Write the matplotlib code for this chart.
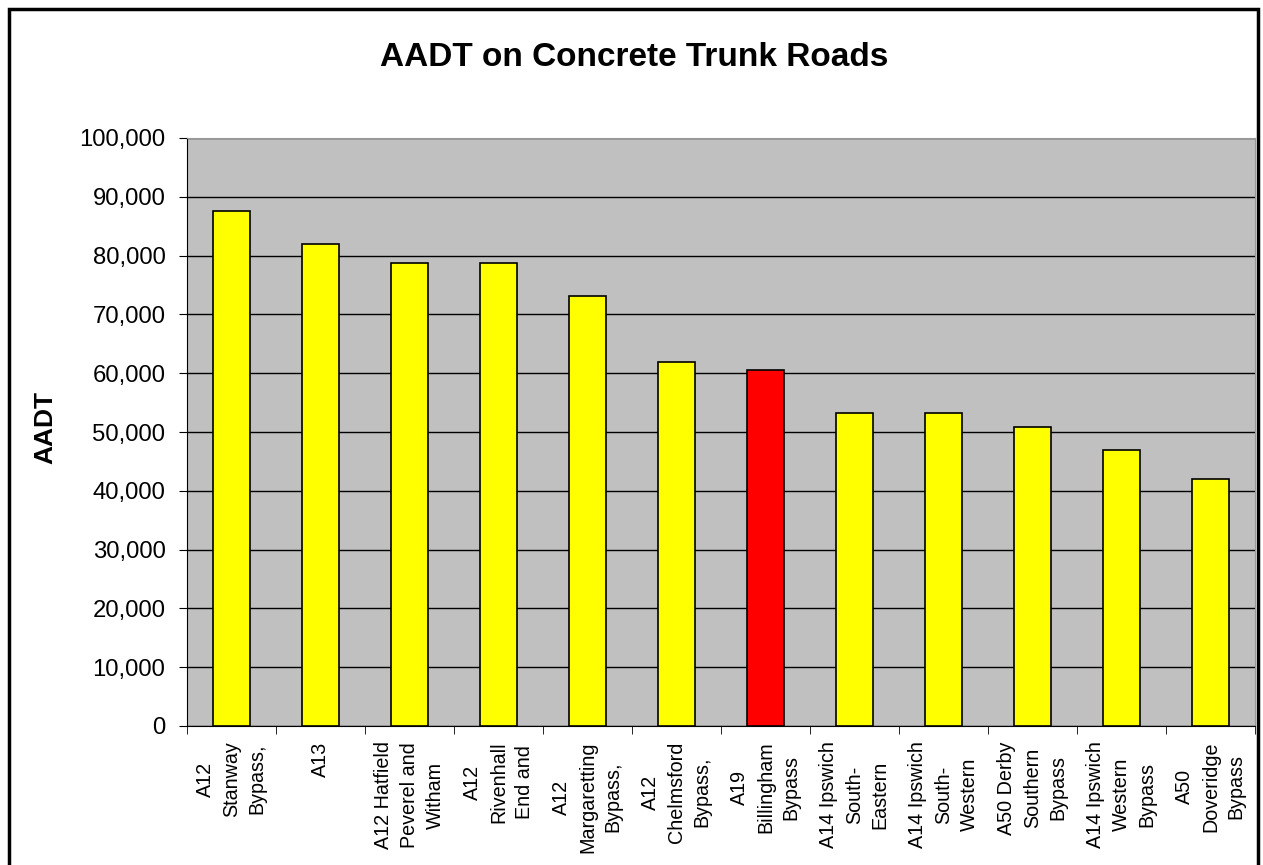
import matplotlib
matplotlib.use("Agg")
import matplotlib.pyplot as plt
from matplotlib.patches import Rectangle
from matplotlib.ticker import FuncFormatter, FixedLocator
import numpy as np

plt.rcParams['font.family'] = ['Liberation Sans', 'DejaVu Sans']

# data
roads = [
    "A12\nStanway\nBypass,",
    "A13",
    "A12 Hatfield\nPeverel and\nWitham",
    "A12\nRivenhall\nEnd and",
    "A12\nMargaretting\nBypass,",
    "A12\nChelmsford\nBypass,",
    "A19\nBillingham\nBypass",
    "A14 Ipswich\nSouth-\nEastern",
    "A14 Ipswich\nSouth-\nWestern",
    "A50 Derby\nSouthern\nBypass",
    "A14 Ipswich\nWestern\nBypass",
    "A50\nDoveridge\nBypass",
]
aadt = [87600, 82000, 78800, 78800, 73200, 61900, 60500, 53300, 53300, 50900, 46900, 42000]
highlight = "A19\nBillingham\nBypass"

W, H = 1263, 865
fig = plt.figure(figsize=(W / 100, H / 100), dpi=100)
ax = fig.add_axes([187 / W, 1 - 726 / H, (1255 - 187) / W, (726 - 138) / H])
ax.set_facecolor("#C0C0C0")

x = np.arange(len(roads))
colors = ["#FF0000" if r == highlight else "#FFFF00" for r in roads]
ax.bar(x, aadt, width=0.42, color=colors, edgecolor="black", linewidth=1.2, zorder=3)

ax.set_xlim(-0.5, len(roads) - 0.5)
ax.set_ylim(0, 100000)
ax.set_yticks(np.arange(0, 100001, 10000))
ax.yaxis.set_major_formatter(FuncFormatter(lambda v, p: f"{int(v):,}"))
ax.grid(axis="y", color="black", linewidth=1, zorder=1)

ax.set_xticks(x)
ax.set_xticklabels(roads, rotation=90, ha="center", va="top", multialignment="center",
                   linespacing=1.45)
ax.xaxis.set_minor_locator(FixedLocator(np.arange(-0.5, len(roads), 1.0)))
ax.tick_params(axis="x", which="major", length=0, pad=11, labelsize=14.2)
ax.tick_params(axis="x", which="minor", length=6, direction="out", color="black")
ax.tick_params(axis="y", length=6, direction="out", color="black", labelsize=17.2, pad=9.5)

ax.spines["top"].set_color("#999999")
ax.spines["right"].set_color("#999999")
ax.spines["left"].set_color("black")
ax.spines["bottom"].set_color("black")

fig.text(45 / W, 1 - 428 / H, "AADT", rotation=90, ha="center", va="center",
         fontsize=19, fontweight="bold")
fig.text(634 / W, 1 - 58 / H, "AADT on Concrete Trunk Roads", ha="center", va="center",
         fontsize=24, fontweight="bold")

# outer chart border
fig.patches.append(Rectangle((8.5 / W, -0.05), (1258 - 8.5) / W, 1.05 - 8.5 / H,
                             transform=fig.transFigure, fill=False,
                             edgecolor="black", linewidth=2.5))

fig.savefig("out.png", dpi=100)
